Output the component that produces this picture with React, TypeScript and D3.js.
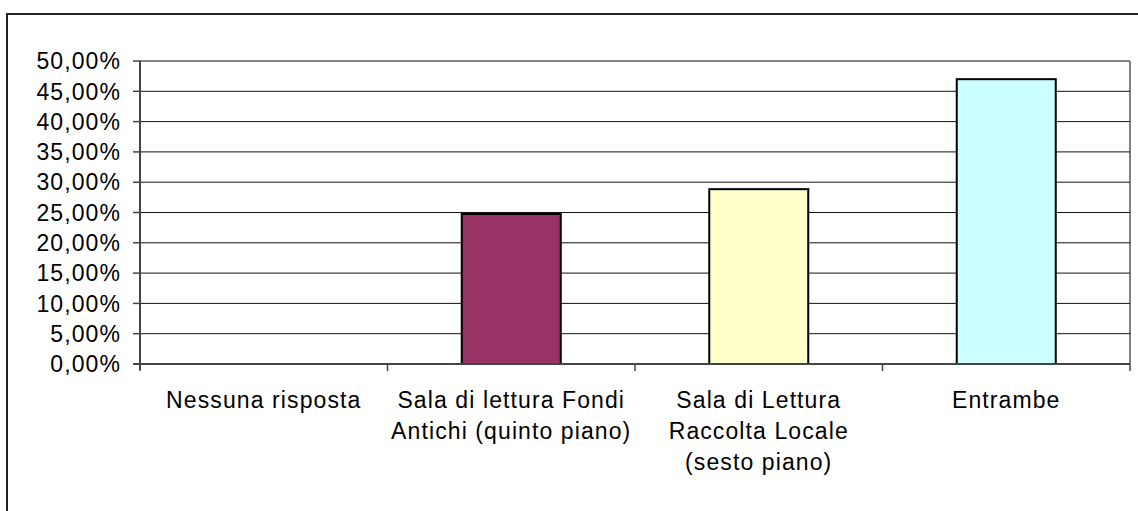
import React from "react";
import * as d3 from "d3";

const categories: string[][] = [
  ["Nessuna risposta"],
  ["Sala di lettura Fondi", "Antichi (quinto piano)"],
  ["Sala di Lettura", "Raccolta Locale", "(sesto piano)"],
  ["Entrambe"],
];
const values: number[] = [0, 24.75, 28.85, 47.0];
const colors: string[] = ["#FFFFFF", "#993366", "#FFFFCC", "#CCFFFF"];
const ticks: number[] = [0, 5, 10, 15, 20, 25, 30, 35, 40, 45, 50];

export default function App() {
  const W = 1138, H = 511;
  const left = 140, right = 1130, top = 61, bottom = 364;
  const x = d3.scaleBand<number>().domain(d3.range(categories.length)).range([left, right]).paddingInner(0.6).paddingOuter(0.3);
  const xb = d3.scaleBand<number>().domain(d3.range(categories.length)).range([left, right]);
  const y = d3.scaleLinear().domain([0, 50]).range([bottom, top]);
  const fmt = (v: number) => v.toFixed(2).replace(".", ",") + "%";
  const font = "'Liberation Sans', Arial, sans-serif";
  const fs = 23;
  const ls = 1.1;
  return (
    <svg width={W} height={H} style={{ position: "absolute", left: 0, top: 0 }} fontFamily={font}>
      <rect x={0} y={0} width={W} height={H} fill="#fff" />
      <rect x={7} y={14} width={W + 20} height={H + 20} fill="none" stroke="#222" strokeWidth={2} />
      <line x1={left} x2={right} y1={top} y2={top} stroke="#808080" strokeWidth={2} />
      <line x1={right} x2={right} y1={top} y2={bottom} stroke="#808080" strokeWidth={2} />
      {ticks.map((t) => (
        <g key={t}>
          {t > 0 && t < 50 && (
            <line x1={left} x2={right} y1={y(t)} y2={y(t)} stroke="#111" strokeWidth={1} />
          )}
          <line x1={left - 7} x2={left} y1={y(t)} y2={y(t)} stroke="#444" strokeWidth={1.5} />
          <text x={left - 19} y={y(t)} dy="0.36em" textAnchor="end" fontSize={fs} letterSpacing={ls} fill="#000">
            {fmt(t)}
          </text>
        </g>
      ))}
      {values.map((v, i) =>
        v > 0 ? (
          <rect key={i} x={x(i)} y={y(v)} width={x.bandwidth()} height={y(0) - y(v)} fill={colors[i]} stroke="#000" strokeWidth={2} />
        ) : null
      )}
      <line x1={left} x2={left} y1={top} y2={bottom + 6} stroke="#444" strokeWidth={2} />
      <line x1={left - 7} x2={right} y1={bottom} y2={bottom} stroke="#444" strokeWidth={2} />
      {d3.range(categories.length + 1).map((i) => {
        const xx = i < categories.length ? (xb(i) as number) : right;
        return <line key={i} x1={xx} x2={xx} y1={bottom} y2={bottom + 7} stroke="#444" strokeWidth={1.5} />;
      })}
      {categories.map((lines, i) => (
        <text key={i} textAnchor="middle" fontSize={fs} letterSpacing={ls} fill="#000">
          {lines.map((l, j) => (
            <tspan key={j} x={(xb(i) as number) + xb.bandwidth() / 2} y={408 + j * 31}>
              {l}
            </tspan>
          ))}
        </text>
      ))}
    </svg>
  );
}
